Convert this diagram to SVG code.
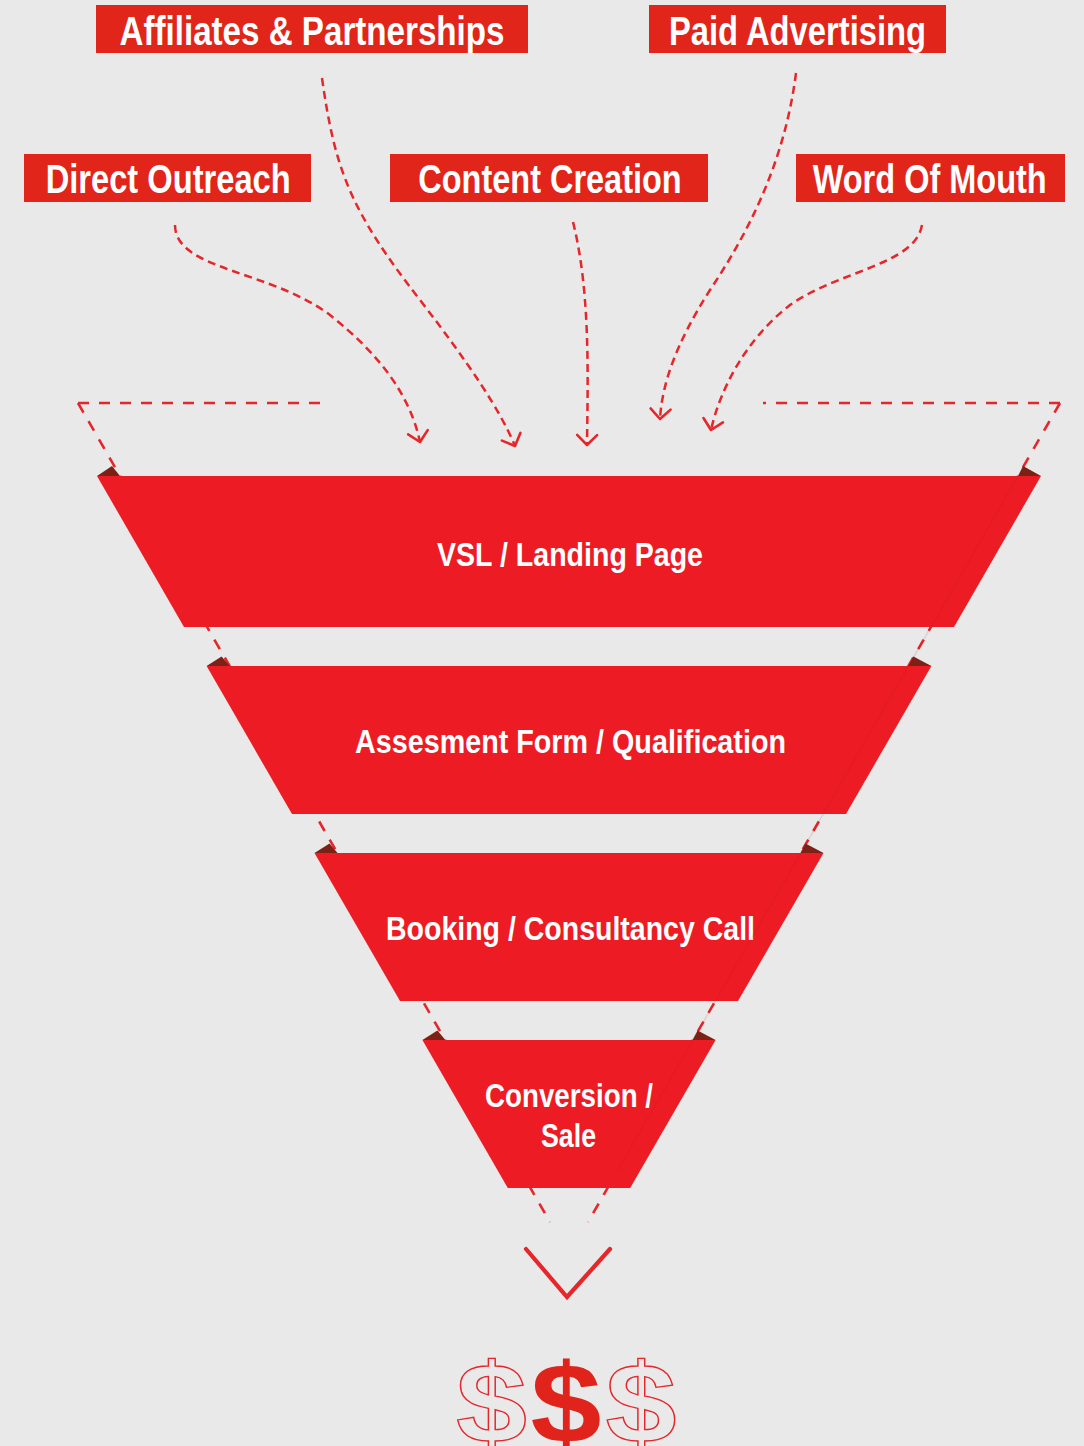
<svg xmlns="http://www.w3.org/2000/svg" width="1084" height="1446" viewBox="0 0 1084 1446">
  <defs>
    <style>
      .lbl-box { fill: #E1251B; }
      .lbl { font-family: "Liberation Sans Narrow", "Liberation Sans", Arial, sans-serif; font-weight: bold; font-size: 40px; fill: #FFFFFF; }
      .band { fill: #ED1C24; }
      .band-txt { font-family: "Liberation Sans Narrow", "Liberation Sans", Arial, sans-serif; font-weight: bold; font-size: 33px; fill: #FFFFFF; }
      .fold { fill: #7B2116; }
      .dash { fill: none; stroke: #E5262A; stroke-width: 2.6; stroke-dasharray: 11 10; }
      .flow { fill: none; stroke: #E5262A; stroke-width: 2.5; stroke-dasharray: 8 5; marker-end: url(#chev); }
      .dollar { font-family: "Liberation Sans", Arial, sans-serif; font-weight: bold; font-size: 114px; text-anchor: middle; }
    </style>
    <marker id="chev" markerUnits="userSpaceOnUse" viewBox="-14 -12 16 24" refX="0" refY="0" markerWidth="16" markerHeight="24" orient="auto">
      <path d="M-10,-10 L0,0 L-10,10" fill="none" stroke="#E5262A" stroke-width="2.6" stroke-linecap="round" stroke-linejoin="round"/>
    </marker>
  </defs>

  <rect x="0" y="0" width="1084" height="1446" fill="#E9E9E9"/>

  <!-- source labels -->
  <g id="affiliates">
    <rect class="lbl-box" x="96" y="5" width="432" height="48"/>
    <text class="lbl" x="119.5" y="44.5" textLength="385" lengthAdjust="spacingAndGlyphs">Affiliates &amp; Partnerships</text>
  </g>
  <g id="paid-advertising">
    <rect class="lbl-box" x="649" y="5" width="297" height="48"/>
    <text class="lbl" x="669" y="44.5" textLength="257" lengthAdjust="spacingAndGlyphs">Paid Advertising</text>
  </g>
  <g id="direct-outreach">
    <rect class="lbl-box" x="24" y="154" width="287" height="48"/>
    <text class="lbl" x="45.7" y="193" textLength="245" lengthAdjust="spacingAndGlyphs">Direct Outreach</text>
  </g>
  <g id="content-creation">
    <rect class="lbl-box" x="390" y="154" width="318" height="48"/>
    <text class="lbl" x="418.3" y="193" textLength="263.4" lengthAdjust="spacingAndGlyphs">Content Creation</text>
  </g>
  <g id="word-of-mouth">
    <rect class="lbl-box" x="796" y="154" width="269" height="48"/>
    <text class="lbl" x="812.7" y="193" textLength="234" lengthAdjust="spacingAndGlyphs">Word Of Mouth</text>
  </g>

  <!-- connectors -->
  <g id="connectors">
    <path class="flow" d="M175,225 C175,270 270,270 330,315 C380,355 410,395 420,442"/>
    <path class="flow" d="M322,78 C335,170 350,210 420,300 C470,365 500,410 515,446"/>
    <path class="flow" d="M573,222 C590,290 588,370 587,445"/>
    <path class="flow" d="M796,73 C785,160 750,230 710,290 C675,345 662,385 660,419"/>
    <path class="flow" d="M922,225 C915,265 840,270 790,305 C745,340 720,390 711,430"/>
  </g>

  <!-- funnel dashed outline -->
  <g id="funnel-outline">
    <line class="dash" x1="78" y1="403" x2="320" y2="403"/>
    <line class="dash" x1="1060" y1="403" x2="763" y2="403"/>
    <line class="dash" x1="78" y1="403" x2="550" y2="1222"/>
    <line class="dash" x1="1060" y1="403" x2="588" y2="1222"/>
  </g>

  <!-- funnel bands -->
  <g id="band-vsl">
    <polygon class="fold" points="97,476 112,466 120,476"/>
    <polygon class="fold" points="1018,476 1023,466 1041,476"/>
    <polygon class="band" points="97,476 1041,476 954,627 184,627"/>
    <text class="band-txt" x="437" y="566" textLength="266" lengthAdjust="spacingAndGlyphs">VSL / Landing Page</text>
  </g>
  <g id="band-assessment">
    <polygon class="fold" points="206.6,666 221.6,656.5 229.6,666"/>
    <polygon class="fold" points="908.4,666 913.4,656.5 931.4,666"/>
    <polygon class="band" points="206.6,666 931.4,666 846,814 292,814"/>
    <text class="band-txt" x="355" y="753" textLength="431" lengthAdjust="spacingAndGlyphs">Assesment Form / Qualification</text>
  </g>
  <g id="band-booking">
    <polygon class="fold" points="314.5,853 329.5,843.5 337.5,853"/>
    <polygon class="fold" points="800.5,853 805.5,843.5 823.5,853"/>
    <polygon class="band" points="314.5,853 823.5,853 738,1001 400,1001"/>
    <text class="band-txt" x="386" y="940" textLength="369" lengthAdjust="spacingAndGlyphs">Booking / Consultancy Call</text>
  </g>
  <g id="band-conversion">
    <polygon class="fold" points="422.4,1040 437.4,1030.5 445.4,1040"/>
    <polygon class="fold" points="692.6,1040 697.6,1030.5 715.6,1040"/>
    <polygon class="band" points="422.4,1040 715.6,1040 630.2,1188 507.8,1188"/>
    <text class="band-txt" x="485" y="1107" textLength="168" lengthAdjust="spacingAndGlyphs">Conversion /</text>
    <text class="band-txt" x="541" y="1147" textLength="55" lengthAdjust="spacingAndGlyphs">Sale</text>
  </g>

  <!-- faint fold line over right side of bands -->
  <line x1="1018" y1="476" x2="618" y2="1170" stroke="#A0141A" stroke-width="1.5" opacity="0.12"/>

  <!-- output arrow -->
  <g id="output-arrow">
    <path d="M526,1249 L567,1297 L610,1249" fill="none" stroke="#E5262A" stroke-width="4.2" stroke-linecap="round" stroke-linejoin="miter"/>
  </g>

  <!-- dollars -->
  <g id="dollars">
    <text class="dollar" transform="translate(491.5,1443) scale(1.12,1)" x="0" y="0" fill="none" stroke="#E5262A" stroke-width="1.3">$</text>
    <text class="dollar" transform="translate(566,1443) scale(1.12,1)" x="0" y="0" fill="#E0231B">$</text>
    <text class="dollar" transform="translate(641,1443) scale(1.12,1)" x="0" y="0" fill="none" stroke="#E5262A" stroke-width="1.3">$</text>
  </g>
</svg>
